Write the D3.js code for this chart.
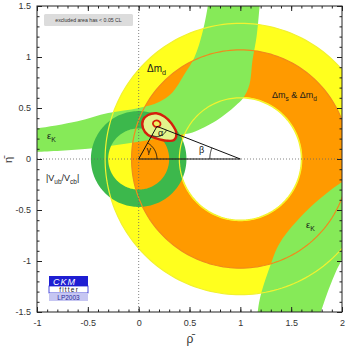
<!DOCTYPE html>
<html>
<head>
<meta charset="utf-8">
<script src="https://cdn.jsdelivr.net/npm/d3@7"></script>
<style>
body { margin: 0; background: #fff; }
svg { display: block; font-family: "Liberation Sans", Arial, sans-serif; }
</style>
</head>
<body>
<div id="chart"></div>
<script>
// Constraints in the (rho-bar, eta-bar) plane
const dmdCenter = [1, 0];
const dmdRadii = [0.6, 1.33];        // Δm_d
const dmsRadii = [0.61, 1.07];       // Δm_s & Δm_d
const vubCenter = [0, 0];
const vubRadii = [0.3, 0.47];        // |Vub/Vcb|

// eps_K band, upper branch: outer (upper-left) and inner (lower-right) edges
const ekUpperOuter = [[-1.1, 0.29], [-1, 0.30], [-0.6, 0.37], [-0.3, 0.45], [0, 0.5], [0.2, 0.56],
  [0.33, 0.65], [0.45, 0.83], [0.55, 1.0], [0.63, 1.25], [0.68, 1.5], [0.69, 1.6]];
const ekUpperInner = [[-1.1, 0.07], [-1, 0.07], [-0.5, 0.1], [-0.2, 0.14], [0, 0.17], [0.2, 0.2],
  [0.43, 0.24], [0.53, 0.26], [0.77, 0.38], [0.95, 0.52], [1.03, 0.6], [1.09, 0.73],
  [1.12, 0.97], [1.16, 1.2], [1.19, 1.5], [1.2, 1.6]];
// eps_K band, lower branch
const ekLowerInner = [[2.1, -0.18], [1.98, -0.24], [1.66, -0.5], [1.39, -0.82], [1.29, -1.06],
  [1.19, -1.38], [1.16, -1.6]];
const ekLowerOuter = [[2.1, -0.88], [2.0, -0.99], [1.88, -1.25], [1.76, -1.6]];

// 95% CL global fit contour and its core
const fitOuter = [[0.043, 0.382], [0.092, 0.431], [0.174, 0.448], [0.256, 0.415], [0.321, 0.35],
  [0.371, 0.252], [0.348, 0.186], [0.272, 0.18], [0.174, 0.203], [0.092, 0.235], [0.043, 0.3]];
const fitInner = [[0.14, 0.35], [0.16, 0.375], [0.2, 0.37], [0.215, 0.34], [0.195, 0.318], [0.155, 0.322]];

// unitarity triangle
const triangle = [[0, 0], [0.18, 0.32], [1, 0]];

const xTicks = [-1, -0.5, 0, 0.5, 1, 1.5, 2];
const yTicks = [-1.5, -1, -0.5, 0, 0.5, 1, 1.5];

const W = 349, H = 349;
const x = d3.scaleLinear().domain([-1, 2]).range([37, 342]);
const y = d3.scaleLinear().domain([-1.5, 1.5]).range([312, 6]);

const svg = d3.select("#chart").append("svg")
    .attr("width", W)
    .attr("height", H);

svg.append("defs").append("clipPath")
    .attr("id", "plotClip")
  .append("rect")
    .attr("x", x(-1)).attr("y", y(1.5))
    .attr("width", x(2) - x(-1)).attr("height", y(-1.5) - y(1.5));

const line = d3.line().x(d => x(d[0])).y(d => y(d[1]));
const smooth = d3.line().x(d => x(d[0])).y(d => y(d[1])).curve(d3.curveCatmullRom);
const closedSmooth = d3.line().x(d => x(d[0])).y(d => y(d[1])).curve(d3.curveCatmullRomClosed);

function circlePts(c, r, a0 = 0, a1 = 2 * Math.PI, n = 200) {
    const pts = [];
    for (let i = 0; i <= n; i++) {
        const a = a0 + (a1 - a0) * i / n;
        pts.push([c[0] + r * Math.cos(a), c[1] + r * Math.sin(a)]);
    }
    return pts;
}

function ringPath(c, radii) {
    return line(circlePts(c, radii[1])) + "Z" + line(circlePts(c, radii[0])) + "Z";
}

function bandPath(edgeA, edgeB) {
    return smooth(edgeA) + "L" + smooth(edgeB.slice().reverse()).slice(1) + "Z";
}

const g = svg.append("g").attr("clip-path", "url(#plotClip)");

// Δm_d ring
g.append("path")
    .attr("d", ringPath(dmdCenter, dmdRadii))
    .attr("fill", "#ffff1e")
    .attr("fill-rule", "evenodd");

// Δm_s & Δm_d ring
g.append("path")
    .attr("d", ringPath(dmdCenter, dmsRadii))
    .attr("fill", "#ff9a00")
    .attr("fill-rule", "evenodd");

// eps_K bands
g.append("path")
    .attr("d", bandPath(ekUpperOuter, ekUpperInner))
    .attr("fill", "#86ea58");
g.append("path")
    .attr("d", bandPath(ekLowerInner, ekLowerOuter))
    .attr("fill", "#86ea58");

// |Vub/Vcb| ring
g.append("path")
    .attr("d", ringPath(vubCenter, vubRadii))
    .attr("fill", "#3cb84c")
    .attr("fill-rule", "evenodd");

// contour edges of the Δm bands, seen through the other bands
[[dmdRadii[0], "#f2f230"], [dmdRadii[1], "#f2f230"], [dmsRadii[1], "#f08a1c"]].forEach(([r, col]) => {
    g.append("path")
        .attr("d", line(circlePts(dmdCenter, r)) + "Z")
        .attr("fill", "none")
        .attr("stroke", col)
        .attr("stroke-width", 1.2);
});

// dotted axes through the origin
g.append("line")
    .attr("x1", x(0)).attr("x2", x(0))
    .attr("y1", y(1.5)).attr("y2", y(-1.5))
    .attr("stroke", "#666").attr("stroke-width", 0.8)
    .attr("stroke-dasharray", "1,2");
g.append("line")
    .attr("x1", x(-1)).attr("x2", x(2))
    .attr("y1", y(0)).attr("y2", y(0))
    .attr("stroke", "#666").attr("stroke-width", 0.8)
    .attr("stroke-dasharray", "1,2");

// global fit contours
g.append("path")
    .attr("d", closedSmooth(fitOuter))
    .attr("fill", "#e2f48c")
    .attr("stroke", "#d4200c")
    .attr("stroke-width", 2.4);
g.append("path")
    .attr("d", closedSmooth(fitInner))
    .attr("fill", "#f0f060")
    .attr("stroke", "#d4200c")
    .attr("stroke-width", 1.8);

// unitarity triangle
g.append("path")
    .attr("d", line(triangle) + "Z")
    .attr("fill", "none")
    .attr("stroke", "#111")
    .attr("stroke-width", 1);

// angle arcs
const apex = triangle[1];
const angGamma = Math.atan2(apex[1], apex[0]);
const angBeta = Math.atan2(apex[1], apex[0] - 1);
g.append("path")
    .attr("d", line(circlePts(triangle[0], 0.18, 0, angGamma, 30)))
    .attr("fill", "none").attr("stroke", "#111").attr("stroke-width", 0.9);
g.append("path")
    .attr("d", line(circlePts(triangle[2], 0.3, angBeta, Math.PI, 30)))
    .attr("fill", "none").attr("stroke", "#111").attr("stroke-width", 0.9);
g.append("path")
    .attr("d", line(circlePts(apex, 0.1, angGamma + Math.PI, angBeta + Math.PI, 30)))
    .attr("fill", "none").attr("stroke", "#111").attr("stroke-width", 0.9);

const greek = [["γ", 0.1, 0.06], ["α", 0.215, 0.225], ["β", 0.62, 0.055]];
svg.selectAll(".greek")
    .data(greek)
    .enter().append("text")
    .attr("class", "greek")
    .attr("x", d => x(d[1]))
    .attr("y", d => y(d[2]))
    .attr("text-anchor", "middle")
    .style("font-size", "9px")
    .style("fill", "#111")
    .text(d => d[0]);

// frame
svg.append("rect")
    .attr("x", x(-1)).attr("y", y(1.5))
    .attr("width", x(2) - x(-1)).attr("height", y(-1.5) - y(1.5))
    .attr("fill", "none").attr("stroke", "#222").attr("stroke-width", 1);

// axes: ticks pointing inward on all four sides
const xMinor = d3.range(-1, 2.001, 0.1).map(v => +v.toFixed(2));
const yMinor = d3.range(-1.5, 1.501, 0.1).map(v => +v.toFixed(2));
const fmt = d => String(d);

function styleAxis(sel) {
    sel.select(".domain").remove();
    sel.selectAll("line").attr("stroke", "#222");
    sel.selectAll("text").style("font-size", "9px").style("fill", "#333")
        .style("font-family", "Liberation Sans, Arial, sans-serif");
}

svg.append("g").attr("transform", `translate(0,${y(-1.5)})`)
    .call(d3.axisBottom(x).tickValues(xTicks).tickFormat(fmt).tickSize(-5).tickPadding(8))
    .call(styleAxis);
svg.append("g").attr("transform", `translate(0,${y(-1.5)})`)
    .call(d3.axisBottom(x).tickValues(xMinor).tickFormat("").tickSize(-2.5))
    .call(styleAxis);
svg.append("g").attr("transform", `translate(0,${y(1.5)})`)
    .call(d3.axisTop(x).tickValues(xTicks).tickFormat("").tickSize(-5))
    .call(styleAxis);
svg.append("g").attr("transform", `translate(0,${y(1.5)})`)
    .call(d3.axisTop(x).tickValues(xMinor).tickFormat("").tickSize(-2.5))
    .call(styleAxis);

svg.append("g").attr("transform", `translate(${x(-1)},0)`)
    .call(d3.axisLeft(y).tickValues(yTicks).tickFormat(fmt).tickSize(-5).tickPadding(6))
    .call(styleAxis);
svg.append("g").attr("transform", `translate(${x(-1)},0)`)
    .call(d3.axisLeft(y).tickValues(yMinor).tickFormat("").tickSize(-2.5))
    .call(styleAxis);
svg.append("g").attr("transform", `translate(${x(2)},0)`)
    .call(d3.axisRight(y).tickValues(yTicks).tickFormat("").tickSize(-5))
    .call(styleAxis);
svg.append("g").attr("transform", `translate(${x(2)},0)`)
    .call(d3.axisRight(y).tickValues(yMinor).tickFormat("").tickSize(-2.5))
    .call(styleAxis);

// axis titles
svg.append("text")
    .attr("x", 190).attr("y", 343)
    .attr("text-anchor", "middle")
    .style("font-size", "12px").style("fill", "#333")
    .text("\u03C1\u0304");
svg.append("text")
    .attr("transform", "translate(12,160) rotate(-90)")
    .attr("text-anchor", "middle")
    .style("font-size", "11px").style("fill", "#333")
    .text("\u03B7\u0304");

// band labels with subscripts
function subLabel(px, py, parts, size) {
    const t = svg.append("text")
        .attr("x", px).attr("y", py)
        .style("font-size", size + "px")
        .style("fill", "#1a1a1a");
    const shift = size * 0.3;
    let lowered = false;
    parts.forEach(([s, sub]) => {
        const dy = sub === lowered ? 0 : (sub ? shift : -shift);
        lowered = sub;
        t.append("tspan")
            .attr("dy", dy)
            .style("font-size", sub ? (size * 0.72) + "px" : size + "px")
            .text(s);
    });
}
subLabel(147, 72, [["Δm", false], ["d", true]], 10);
subLabel(272, 98, [["Δm", false], ["s", true], [" & Δm", false], ["d", true]], 9);
subLabel(47, 139, [["ε", false], ["K", true]], 9.5);
subLabel(306, 228, [["ε", false], ["K", true]], 9.5);
subLabel(46, 181, [["|V", false], ["ub", true], ["/V", false], ["cb", true], ["|", false]], 9);

// "excluded area" box
svg.append("rect")
    .attr("x", 44).attr("y", 14).attr("width", 89).attr("height", 12)
    .attr("rx", 1.5)
    .attr("fill", "#dcdcdc");
svg.append("text")
    .attr("x", 88.5).attr("y", 22)
    .attr("text-anchor", "middle")
    .style("font-size", "5.2px").style("fill", "#333")
    .text("excluded area has < 0.05 CL");

// CKMfitter logo
const logo = svg.append("g").attr("transform", "translate(49,276)");
logo.append("rect").attr("width", 39).attr("height", 10).attr("fill", "#1e1ed2");
logo.append("text").attr("x", 4).attr("y", 8.5)
    .style("font-size", "9px").style("font-style", "italic").style("fill", "#fff")
    .style("letter-spacing", "1px")
    .text("CKM");
logo.append("rect").attr("y", 10).attr("width", 39).attr("height", 7)
    .attr("fill", "#fff").attr("stroke", "#1e1ed2").attr("stroke-width", 0.8);
logo.append("text").attr("x", 30).attr("y", 16)
    .attr("text-anchor", "end")
    .style("font-size", "6.5px").style("fill", "#111").style("letter-spacing", "1.2px")
    .text("fitter");
logo.append("rect").attr("y", 17).attr("width", 39).attr("height", 8).attr("fill", "#c6c6f2");
logo.append("text").attr("x", 19.5).attr("y", 23.5)
    .attr("text-anchor", "middle")
    .style("font-size", "6.5px").style("fill", "#2a2a9a")
    .text("LP2003");
</script>
</body>
</html>
